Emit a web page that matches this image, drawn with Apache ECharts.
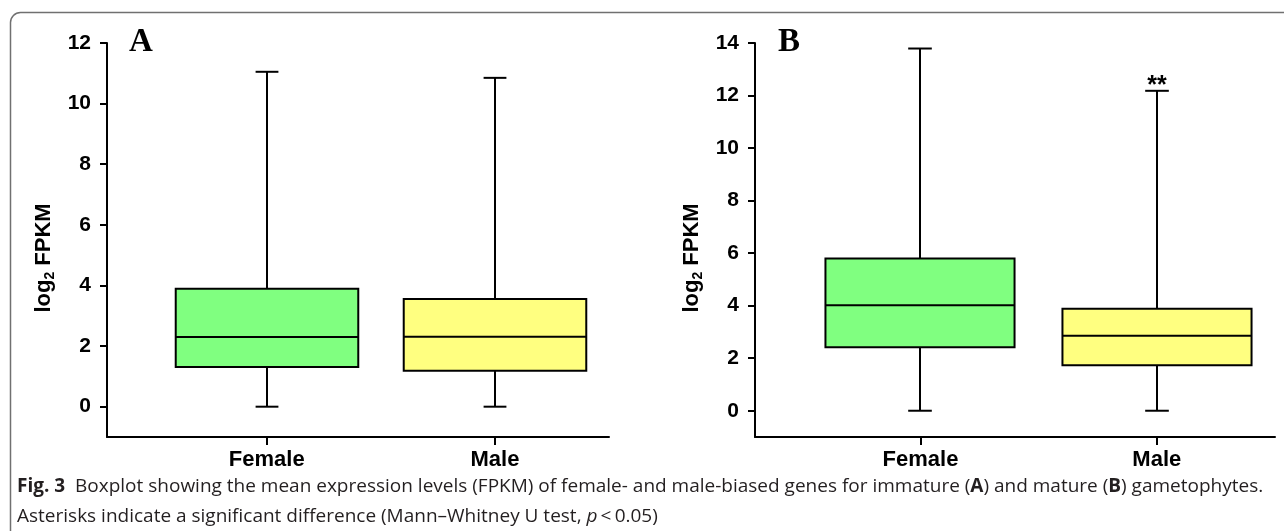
<!DOCTYPE html>
<html><head><meta charset="utf-8">
<script src="https://cdn.jsdelivr.net/npm/echarts@6/dist/echarts.min.js"></script>
<style>html,body{margin:0;padding:0;background:#fff}#chart{width:1284px;height:531px}</style>
</head><body><div id="chart"></div>
<script>
// ---------- data ----------
const categories = ['Female', 'Male'];
const categoryPositions = [1, 2];
const panelATicks = [0, 2, 4, 6, 8, 10, 12];
const panelBTicks = [0, 2, 4, 6, 8, 10, 12, 14];
const aMin = [0, 0];
const aQ1 = [1.31, 1.19];
const aMedian = [2.30, 2.31];
const aQ3 = [3.89, 3.55];
const aMax = [11.05, 10.85];
const bMin = [0, 0];
const bQ1 = [2.42, 1.73];
const bMedian = [4.02, 2.85];
const bQ3 = [5.80, 3.88];
const bMax = [13.79, 12.18];
const aMarks = ['', ''];
const bMarks = ['', '**'];
const panelLetters = ['A', 'B'];
const captionBold = 'Fig. 3';
const captionLine1a = 'Boxplot showing the mean expression levels (FPKM) of female- and male-biased genes for immature (';
const captionLine1b = ') and mature (';
const captionLine1c = ') gametophytes.';
const captionLine2a = 'Asterisks indicate a significant difference (Mann\u2013Whitney U test, ';
const captionLine2p = 'p';
const captionLine2b = '\u2009<\u20090.05)';

// ---------- styles ----------
const boxColors = ['#80ff80', '#ffff80'];
const SANS = '"Liberation Sans", Arial, Helvetica, sans-serif';
const CAP = '"Open Sans", "Noto Sans", sans-serif';

function rows(mn, q1, md, q3, mx) {
  return categories.map((c, i) => [categoryPositions[i], mn[i], q1[i], md[i], q3[i], mx[i]]);
}

function makeRender(marks) {
  return function (params, api) {
    const x = api.value(0);
    const pMin = api.coord([x, api.value(1)]);
    const pQ1 = api.coord([x, api.value(2)]);
    const pMed = api.coord([x, api.value(3)]);
    const pQ3 = api.coord([x, api.value(4)]);
    const pMax = api.coord([x, api.value(5)]);
    const boxW = api.size([0.8, 0])[0];
    const capW = api.size([0.1, 0])[0];
    const cx = Math.round(pMed[0]);
    const ls = { stroke: '#000', lineWidth: 2 };
    const children = [
      { type: 'line', shape: { x1: cx, y1: pMax[1], x2: cx, y2: pQ3[1] }, style: ls },
      { type: 'line', shape: { x1: cx, y1: pQ1[1], x2: cx, y2: pMin[1] }, style: ls },
      { type: 'line', shape: { x1: cx - capW / 2, y1: pMax[1], x2: cx + capW / 2, y2: pMax[1] }, style: ls },
      { type: 'line', shape: { x1: cx - capW / 2, y1: pMin[1], x2: cx + capW / 2, y2: pMin[1] }, style: ls },
      { type: 'rect', shape: { x: cx - boxW / 2, y: pQ3[1], width: boxW, height: pQ1[1] - pQ3[1] },
        style: { fill: boxColors[params.dataIndex], stroke: '#000', lineWidth: 2 } },
      { type: 'line', shape: { x1: cx - boxW / 2, y1: pMed[1], x2: cx + boxW / 2, y2: pMed[1] }, style: ls }
    ];
    const m = marks[params.dataIndex];
    if (m) {
      children.push({ type: 'text', x: cx, y: pMax[1] - 5,
        style: { text: m, fill: '#000', font: 'bold 25px ' + SANS, align: 'center', verticalAlign: 'middle' } });
    }
    return { type: 'group', children };
  };
}

function xAxisFor(gi) {
  return {
    type: 'value', gridIndex: gi, min: 0.3, max: 2.5,
    axisLine: { show: true, onZero: false, lineStyle: { color: '#000', width: 2 } },
    axisTick: { show: true, customValues: categoryPositions, length: 8, lineStyle: { color: '#000', width: 2 } },
    axisLabel: { show: true, customValues: categoryPositions, margin: 12,
      formatter: v => categories[categoryPositions.indexOf(Math.round(v))] || '',
      color: '#000', fontFamily: SANS, fontWeight: 'bold', fontSize: 22 },
    splitLine: { show: false }
  };
}
function yAxisFor(gi, maxV, ticks) {
  return {
    type: 'value', gridIndex: gi, min: -1, max: maxV,
    name: '{t|log}{s|2}{t| FPKM}', nameLocation: 'middle', nameGap: 50, nameRotate: 90,
    nameTextStyle: {
      padding: [0, 36, 0, 0],
      rich: {
        t: { fontFamily: SANS, fontWeight: 'bold', fontSize: 22, color: '#000', lineHeight: 26 },
        s: { fontFamily: SANS, fontWeight: 'bold', fontSize: 14, color: '#000', lineHeight: 26, verticalAlign: 'bottom' }
      }
    },
    axisLine: { show: true, onZero: false, lineStyle: { color: '#000', width: 2 } },
    axisTick: { show: true, customValues: ticks, length: 7, lineStyle: { color: '#000', width: 2 } },
    axisLabel: { show: true, customValues: ticks, margin: 16, color: '#000', fontFamily: SANS, fontWeight: 'bold', fontSize: 21 },
    splitLine: { show: false }
  };
}

const chart = echarts.init(document.getElementById('chart'), null, { renderer: 'canvas' });
chart.setOption({
  animation: false,
  backgroundColor: '#fff',
  grid: [
    { left: 107, top: 43, width: 502, height: 394, outerBoundsMode: 'none', containLabel: false },
    { left: 755, top: 43, width: 520, height: 394, outerBoundsMode: 'none', containLabel: false }
  ],
  xAxis: [xAxisFor(0), xAxisFor(1)],
  yAxis: [yAxisFor(0, 12, panelATicks), yAxisFor(1, 14, panelBTicks)],
  series: [
    { type: 'custom', xAxisIndex: 0, yAxisIndex: 0, clip: false, renderItem: makeRender(aMarks),
      encode: { x: 0, y: [1, 2, 3, 4, 5] }, data: rows(aMin, aQ1, aMedian, aQ3, aMax) },
    { type: 'custom', xAxisIndex: 1, yAxisIndex: 1, clip: false, renderItem: makeRender(bMarks),
      encode: { x: 0, y: [1, 2, 3, 4, 5] }, data: rows(bMin, bQ1, bMedian, bQ3, bMax) }
  ],
  graphic: [
    { type: 'rect', silent: true, shape: { x: 10.5, y: 12.5, width: 1400, height: 700, r: 10 },
      style: { fill: 'none', stroke: '#707070', lineWidth: 1.5 } },
    { type: 'text', x: 129, y: 42, style: { text: panelLetters[0], fill: '#000',
      font: 'bold 33px "Liberation Serif", "Times New Roman", serif', verticalAlign: 'middle' } },
    { type: 'text', x: 778, y: 42, style: { text: panelLetters[1], fill: '#000',
      font: 'bold 33px "Liberation Serif", "Times New Roman", serif', verticalAlign: 'middle' } },
    { type: 'text', x: 17, y: 487, style: {
      text: '{b|' + captionBold + '}  ' + captionLine1a + '{b|A}' + captionLine1b + '{b|B}' + captionLine1c,
      fill: '#231f20', fontFamily: CAP, fontSize: 19, verticalAlign: 'middle',
      rich: { b: { fontFamily: CAP, fontSize: 19, fontWeight: 'bold', fill: '#231f20' } } } },
    { type: 'text', x: 17, y: 517, style: {
      text: captionLine2a + '{i|' + captionLine2p + '}' + captionLine2b,
      fill: '#231f20', fontFamily: CAP, fontSize: 19, verticalAlign: 'middle',
      rich: { i: { fontFamily: CAP, fontSize: 19, fontStyle: 'italic', fill: '#231f20' } } } }
  ]
});
</script></body></html>
